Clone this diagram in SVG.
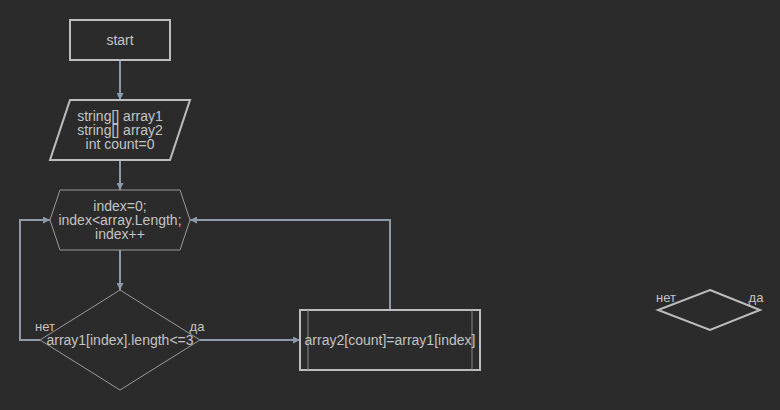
<svg xmlns="http://www.w3.org/2000/svg" width="780" height="410" viewBox="0 0 780 410">
<style>
.bg{fill:#2b2b2b}
.thick{fill:none;stroke:#bdbdbd;stroke-width:2}
.thin{fill:none;stroke:#9a9a9a;stroke-width:1}
.conn{fill:none;stroke:#8c9aaa;stroke-width:2}
text{font-family:"Liberation Sans",Arial,sans-serif;font-size:14px;fill:#c4c4c4;text-anchor:middle;dominant-baseline:central}
.lbl{font-size:13px}
</style>
<defs>
<marker id="arr" viewBox="0 0 6 6" refX="6" refY="3" markerWidth="3.5" markerHeight="3.5" orient="auto" markerUnits="strokeWidth">
<path d="M0,0 L6,3 L0,6 Z" fill="#8c9aaa"/>
</marker>
</defs>
<rect class="bg" x="0" y="0" width="780" height="410"/>
<g id="connectors">
<path class="conn" d="M120,60 V100" marker-end="url(#arr)"/>
<path class="conn" d="M120,160 V190" marker-end="url(#arr)"/>
<path class="conn" d="M120,250 V290" marker-end="url(#arr)"/>
<path class="conn" d="M200,340 H300" marker-end="url(#arr)"/>
<path class="conn" d="M390,310 V220 H190" marker-end="url(#arr)"/>
<path class="conn" d="M40,340 H20 V220 H50" marker-end="url(#arr)"/>
</g>
<g id="start">
<rect class="thick" x="70" y="20" width="100" height="40"/>
<text x="120" y="40">start</text>
</g>
<g id="input">
<polygon class="thick" points="70,100 190,100 170,160 50,160"/>
<text x="120" y="116">string[] array1</text>
<text x="120" y="130">string[] array2</text>
<text x="120" y="144">int count=0</text>
</g>
<g id="loop">
<polygon class="thin" points="60,190 180,190 190,220 180,250 60,250 50,220"/>
<text x="120" y="206">index=0;</text>
<text x="120" y="220">index&lt;array.Length;</text>
<text x="120" y="234">index++</text>
</g>
<g id="decision">
<polygon class="thin" points="120,290 200,340 120,390 40,340"/>
<text x="120" y="340">array1[index].length&lt;=3</text>
<text class="lbl" x="45" y="326">нет</text>
<text class="lbl" x="197" y="326">да</text>
</g>
<g id="process">
<rect class="thick" x="300" y="310" width="180" height="60"/>
<line x1="308" y1="310" x2="308" y2="370" stroke="#8a8a8a" stroke-width="1"/>
<line x1="472" y1="310" x2="472" y2="370" stroke="#8a8a8a" stroke-width="1"/>
<text x="390" y="340">array2[count]=array1[index]</text>
</g>
<g id="legend">
<polygon class="thick" points="710,290 760,310 710,330 658,310"/>
<text class="lbl" x="666" y="297">нет</text>
<text class="lbl" x="756" y="297">да</text>
</g>
</svg>
